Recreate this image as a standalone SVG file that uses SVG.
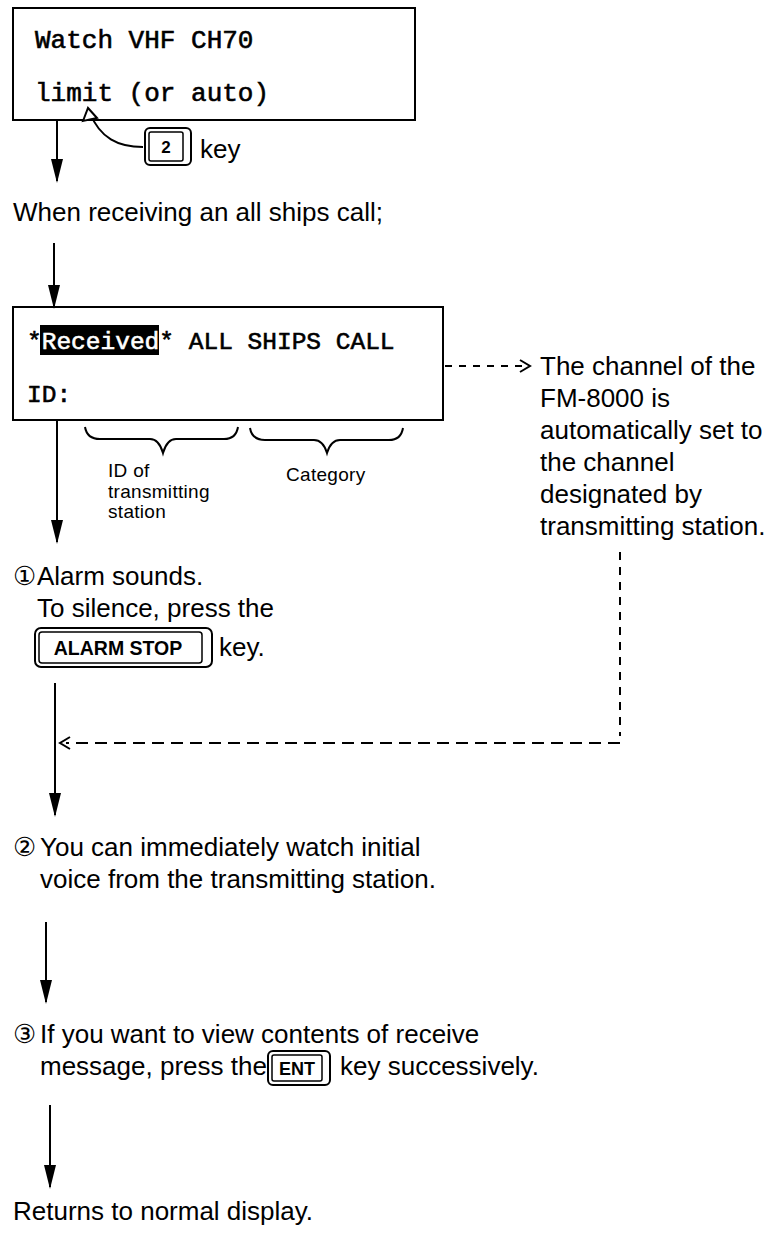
<svg xmlns="http://www.w3.org/2000/svg" width="780" height="1234" viewBox="0 0 780 1234">
<style>
.box{fill:#fff;stroke:#000;stroke-width:2}
.mono{font-family:"Liberation Mono","DejaVu Sans Mono",monospace;fill:#000;stroke:#000;stroke-width:0.6}
.inv{fill:#fff;stroke:#fff}
.t{font-family:"Liberation Sans","DejaVu Sans","Noto Sans CJK JP",sans-serif;font-size:26px;fill:#000}
.s{font-family:"Liberation Sans",Arial,sans-serif;font-size:19px;letter-spacing:0.3px;fill:#000}
.kb{font-family:"Liberation Sans",Arial,sans-serif;font-weight:bold;fill:#000}
.ln{fill:none;stroke:#000;stroke-width:2}
.dh{fill:none;stroke:#000;stroke-width:2;stroke-dasharray:12 7}
.dv{fill:none;stroke:#000;stroke-width:2;stroke-dasharray:8 7}
.ds{fill:none;stroke:#000;stroke-width:2;stroke-dasharray:7 7}
.key{fill:#fff;stroke:#000;stroke-width:2}
.keyi{fill:none;stroke:#000;stroke-width:1.5}
</style>
<defs>
<marker id="ah" markerWidth="24" markerHeight="12" refX="22" refY="6" orient="auto" markerUnits="userSpaceOnUse" viewBox="0 0 24 12">
<path d="M0 0 L24 6 L0 12 Z" fill="#000"/>
</marker>
</defs>

<g id="box1">
<rect class="box" x="13" y="8" width="402" height="112"/>
<text class="mono" x="35" y="48" font-size="26">Watch VHF CH70</text>
<text class="mono" x="35" y="101" font-size="26">limit (or auto)</text>
</g>

<g id="key2">
<path class="ln" d="M143 147 C118 147 100 138 90 113"/>
<path d="M83 121 L88 108 L97 118 Z" fill="#fff" stroke="#000" stroke-width="2"/>
<rect class="key" x="145" y="128" width="46" height="37" rx="5"/>
<rect class="keyi" x="149" y="132" width="34" height="29" rx="2"/>
<text class="kb" x="166" y="153" font-size="17" text-anchor="middle">2</text>
<text class="t" x="200" y="158">key</text>
</g>

<g id="receiving">
<text class="t" x="13" y="221">When receiving an all ships call;</text>
</g>

<g id="box2">
<rect class="box" x="13" y="307" width="430" height="113"/>
<rect x="40" y="325" width="119" height="30" fill="#000"/>
<text class="mono" x="27" y="349" font-size="24.5">*<tspan class="inv">Received</tspan>* ALL SHIPS CALL</text>
<text class="mono" x="27" y="402" font-size="24.5">ID:</text>
</g>

<g id="braces">
<path class="ln" d="M85 427 Q87 439 100 439 L150 439 Q159 439 163 453 Q167 439 176 439 L224 439 Q236 439 238 427"/>
<path class="ln" d="M250 428 Q252 440 265 440 L314 440 Q323 440 327 453 Q331 440 340 440 L389 440 Q401 440 403 428"/>
<text class="s" x="108" y="477">ID of</text>
<text class="s" x="108" y="498">transmitting</text>
<text class="s" x="108" y="518">station</text>
<text class="s" x="286" y="481">Category</text>
</g>

<g id="channel-note">
<text class="t" x="540" y="375">The channel of the</text>
<text class="t" x="540" y="407">FM-8000 is</text>
<text class="t" x="540" y="439">automatically set to</text>
<text class="t" x="540" y="471">the channel</text>
<text class="t" x="540" y="503">designated by</text>
<text class="t" x="540" y="535">transmitting station.</text>
</g>

<g id="step1">
<text class="t" x="13" y="585">①<tspan x="37">Alarm sounds.</tspan></text>
<text class="t" x="37" y="617">To silence, press the</text>
<rect class="key" x="35" y="628" width="177" height="39" rx="6"/>
<rect class="keyi" x="39" y="632" width="163" height="31" rx="3"/>
<text class="kb" x="118" y="655" font-size="19.5" text-anchor="middle">ALARM STOP</text>
<text class="t" x="219" y="656">key.</text>
</g>

<g id="step2">
<text class="t" x="13" y="856">②<tspan x="40">You can immediately watch initial</tspan></text>
<text class="t" x="40" y="888">voice from the transmitting station.</text>
</g>

<g id="step3">
<text class="t" x="13" y="1043">③<tspan x="40">If you want to view contents of receive</tspan></text>
<text class="t" x="40" y="1075">message, press the</text>
<rect class="key" x="268" y="1051" width="62" height="34" rx="5"/>
<rect class="keyi" x="272" y="1055" width="50" height="26" rx="2"/>
<text class="kb" x="297" y="1075" font-size="18" text-anchor="middle">ENT</text>
<text class="t" x="340" y="1075">key successively.</text>
</g>

<g id="end">
<text class="t" x="13" y="1220">Returns to normal display.</text>
</g>

<g id="connectors">
<line class="ln" x1="57" y1="120" x2="57" y2="181" marker-end="url(#ah)"/>
<line class="ln" x1="54" y1="243" x2="54" y2="307" marker-end="url(#ah)"/>
<line class="ln" x1="57" y1="420" x2="57" y2="542" marker-end="url(#ah)"/>
<line class="ln" x1="55" y1="683" x2="55" y2="815" marker-end="url(#ah)"/>
<line class="ln" x1="46" y1="922" x2="46" y2="1002" marker-end="url(#ah)"/>
<line class="ln" x1="50" y1="1105" x2="50" y2="1187" marker-end="url(#ah)"/>
<path class="ds" d="M445 366 L524 366"/>
<path class="ln" d="M520 360 L530 366 L520 372"/>
<path class="dv" d="M620 552 L620 736"/>
<path class="dh" d="M620 743 L66 743"/>
<path class="ln" d="M70 737 L60 743 L70 749"/>
</g>
</svg>
